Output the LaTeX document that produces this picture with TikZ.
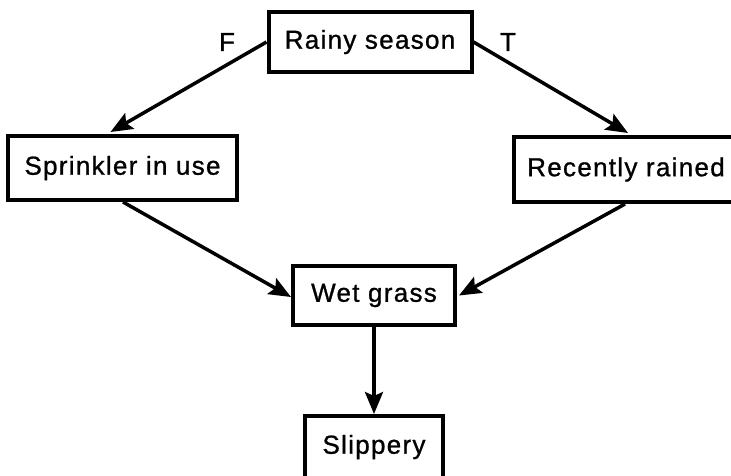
\documentclass[tikz,border=0pt]{standalone}
\usepackage{fontspec}
\setmainfont{Liberation Sans}[LetterSpace=5,FakeBold=1]
\usetikzlibrary{arrows.meta}
\begin{document}
\begin{tikzpicture}[x=1pt,y=-1pt,
  box/.style={draw,line width=4pt,rectangle,inner sep=0pt,
    font=\fontsize{26}{30}\selectfont},
  link/.style={line width=3.5pt,-{Stealth[length=22pt,width=18pt,inset=4pt]}},
  tag/.style={font=\fontsize{26}{30}\selectfont}]
\useasboundingbox (0,0) rectangle (731,475);
\clip (0,0) rectangle (731,475);
% variables of the network
\node[box,minimum width=203pt,minimum height=60pt] (rain) at (370,42) {Rainy season};
\node[box,minimum width=229pt,minimum height=64pt] (spr) at (122.5,168) {Sprinkler in use};
\node[box,minimum width=224pt,minimum height=65pt] (rec) at (626,169.5) {Recently rained};
\node[box,minimum width=162pt,minimum height=59pt] (wet) at (374,295.5) {Wet grass};
\node[box,minimum width=138pt,minimum height=62pt] (slip) at (374,447) {Slippery};
% branch labels
\node[tag] (f) at (227,42) {F};
\node[tag] (t) at (508,42) {T};
% dependencies
\draw[link] (rain.west) -- ([xshift=-12pt,yshift=2pt]spr.north);
\draw[link] (rain.east) -- ([xshift=2pt,yshift=2pt]rec.north);
\draw[link] ([xshift=0.5pt]spr.south) -- ([yshift=-1.5pt]wet.west);
\draw[link] ([xshift=-1pt]rec.south) -- ([xshift=2pt]wet.east);
\draw[link] (wet.south) -- (slip.north);
\end{tikzpicture}
\end{document}
